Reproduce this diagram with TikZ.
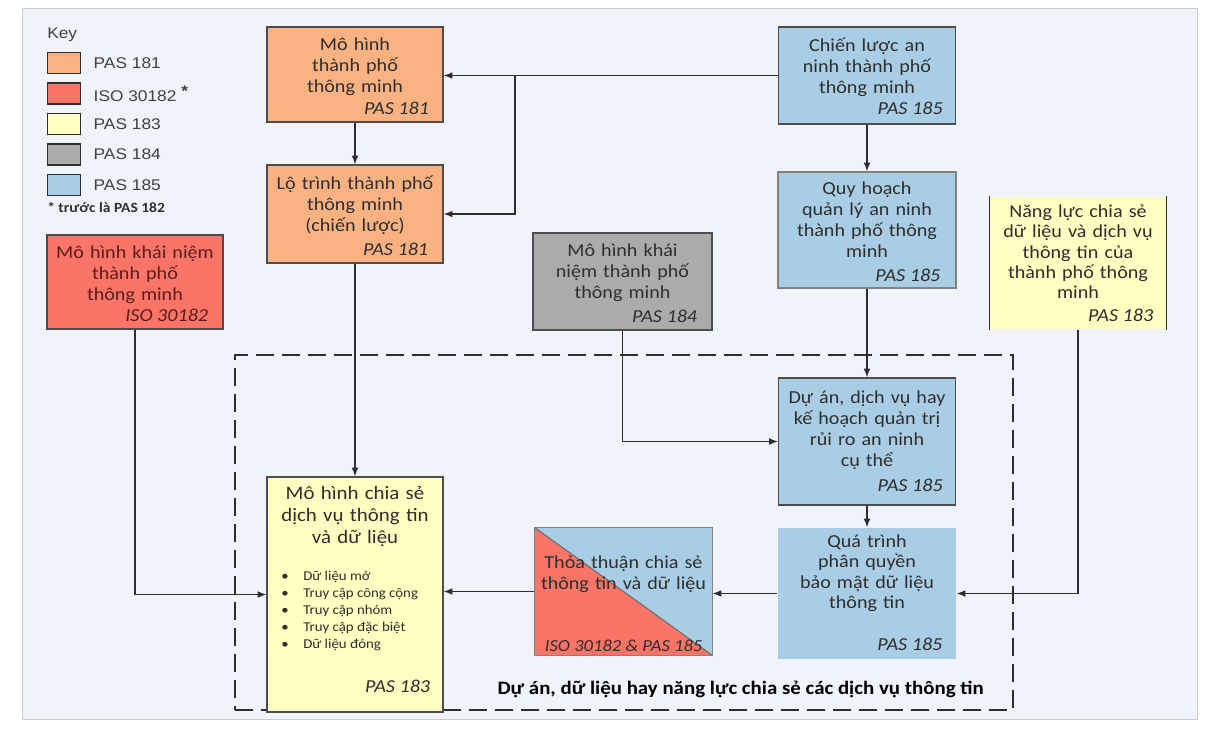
\documentclass[tikz,border=0pt]{standalone}
\usepackage{fontspec}
\setmainfont{Carlito}[FakeStretch=1.1]
\newfontfamily\keyfont{Liberation Sans}[FakeStretch=1.12]
\usetikzlibrary{arrows.meta,positioning}

\definecolor{pasorange}{HTML}{FAB283}
\definecolor{isored}{HTML}{FA7468}
\definecolor{pasyellow}{HTML}{FFFFC2}
\definecolor{pasgrey}{HTML}{ABABAB}
\definecolor{pasblue}{HTML}{A9CDE5}
\definecolor{paper}{HTML}{F0F3FA}
\definecolor{ink}{HTML}{2E2E2E}
\definecolor{isoink}{HTML}{5A1E18}

\begin{document}
\begin{tikzpicture}[x=0.025cm, y=-0.025cm,
  box/.style={draw=ink!85, line width=0.9pt, minimum width=4.4cm, inner sep=0pt},
  boxtext/.style={anchor=north, align=center, text width=4.2cm, inner sep=0pt, text=ink,
    font=\fontsize{13}{15}\selectfont},
  pas/.style={anchor=east, inner sep=0pt, text=ink, font=\fontsize{13}{15}\selectfont\itshape},
  arr/.style={draw=ink, line width=0.8pt, -{Latex[length=2.2mm,width=1.7mm]}},
  swatch/.style={draw=ink, line width=1pt, minimum width=0.825cm, minimum height=0.525cm, inner sep=0pt},
  keylabel/.style={anchor=west, inner sep=0pt, text=black!75, font=\keyfont\fontsize{11}{13}\selectfont},
]
\useasboundingbox (0,0) rectangle (1208,731);
\draw[fill=paper, draw=black!20] (22,8) rectangle (1197,719);

% key
\node[keylabel] (keyhead) at (47,35) {Key};
\node[swatch, fill=pasorange, anchor=north west] (k181) at (47,52) {};
\node[swatch, fill=isored, below=0.2cm of k181] (k30182) {};
\node[swatch, fill=pasyellow, below=0.2cm of k30182] (k183) {};
\node[swatch, fill=pasgrey, below=0.2cm of k183] (k184) {};
\node[swatch, fill=pasblue, below=0.2cm of k184] (k185) {};
\node[keylabel, right=0.3cm of k181] (l181) {PAS 181};
\node[keylabel, right=0.3cm of k30182] (l30182) {ISO 30182~\raisebox{0.6ex}{\bfseries *}};
\node[keylabel, right=0.3cm of k183] (l183) {PAS 183};
\node[keylabel, right=0.3cm of k184] (l184) {PAS 184};
\node[keylabel, right=0.3cm of k185] (l185) {PAS 185};
\node[anchor=west, inner sep=0pt, text=ink, font=\fontsize{10}{12}\selectfont\bfseries] (keynote) at (47,208) {* trước là PAS 182};

% dashed scope
\node[draw=ink, line width=1.3pt, dash pattern=on 0.45cm off 0.2cm, minimum width=19.45cm, minimum height=8.875cm, inner sep=0pt] (project) at (624,532.5) {};
\node[anchor=east, inner sep=0pt, text=black, font=\fontsize{13.5}{15}\selectfont\bfseries] (projecttitle)
  at ([xshift=-0.75cm,yshift=0.55cm]project.south east) {Dự án, dữ liệu hay năng lực chia sẻ các dịch vụ thông tin};

% PAS 181
\node[box, fill=pasorange, minimum height=2.375cm] (m181) at (355,74.5) {};
\node[boxtext] (m181t) at ([yshift=-0.27cm]m181.north) {Mô hình\\thành phố\\thông minh};
\node[pas] (m181p) at ([xshift=-0.36cm,yshift=0.35cm]m181.south east) {PAS 181};

\node[box, fill=pasorange, minimum height=2.45cm] (lotrinh) at (355,214) {};
\node[boxtext] (lotrinht) at ([yshift=-0.27cm]lotrinh.north) {Lộ trình thành phố\\thông minh\\(chiến lược)};
\node[pas] (lotrinhp) at ([xshift=-0.38cm,yshift=0.37cm]lotrinh.south east) {PAS 181};

% ISO 30182
\node[box, fill=isored, minimum height=2.35cm] (iso) at (135,282) {};
\node[boxtext, text=isoink] (isot) at ([yshift=-0.27cm]iso.north) {Mô hình khái niệm\\thành phố\\thông minh};
\node[pas, text=isoink] (isop) at ([xshift=-0.38cm,yshift=0.35cm]iso.south east) {ISO 30182};

% PAS 184
\node[box, fill=pasgrey, minimum width=4.475cm, minimum height=2.425cm] (pas184) at (622.5,281.5) {};
\node[boxtext] (pas184t) at ([yshift=-0.27cm]pas184.north) {Mô hình khái\\niệm thành phố\\thông minh};
\node[pas] (pas184p) at ([xshift=-0.38cm,yshift=0.37cm]pas184.south east) {PAS 184};

% PAS 185
\node[box, fill=pasblue, minimum width=4.425cm, minimum height=2.425cm] (chienluoc) at (867,75.5) {};
\node[boxtext] (chienluoct) at ([yshift=-0.27cm]chienluoc.north) {Chiến lược an\\ninh thành phố\\thông minh};
\node[pas] (chienluocp) at ([xshift=-0.33cm,yshift=0.4cm]chienluoc.south east) {PAS 185};

\node[box, draw=ink!60, fill=pasblue, minimum width=4.45cm, minimum height=2.9cm] (quyhoach) at (867,230) {};
\node[boxtext] (quyhoacht) at ([yshift=-0.25cm]quyhoach.north) {Quy hoạch\\quản lý an ninh\\thành phố thông\\minh};
\node[pas] (quyhoachp) at ([xshift=-0.4cm,yshift=0.33cm]quyhoach.south east) {PAS 185};

\node[box, fill=pasblue, minimum width=4.425cm, minimum height=3.175cm] (duan) at (867,441.5) {};
\node[boxtext] (duant) at ([yshift=-0.32cm]duan.north) {Dự án, dịch vụ hay\\kế hoạch quản trị\\rủi ro an ninh\\cụ thể};
\node[pas] (duanp) at ([xshift=-0.33cm,yshift=0.5cm]duan.south east) {PAS 185};

\node[box, draw=none, fill=pasblue, minimum width=4.45cm, minimum height=3.275cm] (quatrinh) at (867,593.5) {};
\node[boxtext, font=\fontsize{13}{14.5}\selectfont] (quatrinht) at ([yshift=-0.18cm]quatrinh.north) {Quá trình\\phân quyền\\bảo mật dữ liệu\\thông tin};
\node[pas] (quatrinhp) at ([xshift=-0.35cm,yshift=0.38cm]quatrinh.south east) {PAS 185};

% PAS 183
\node[box, draw=none, fill=pasyellow, minimum height=3.3cm] (nangluc) at (1078,263) {};
\draw[ink, line width=1pt] (nangluc.north west) -- (nangluc.south west)
  (nangluc.north east) -- (nangluc.south east);
\node[boxtext, font=\fontsize{13}{14.5}\selectfont] (nanglt) at ([yshift=-0.2cm]nangluc.north) {Năng lực chia sẻ\\dữ liệu và dịch vụ\\thông tin của\\thành phố thông\\minh};
\node[pas] (nanglucp) at ([xshift=-0.33cm,yshift=0.37cm]nangluc.south east) {PAS 183};

\node[box, fill=pasyellow, minimum height=5.875cm] (chiase) at (355,594.5) {};
\node[boxtext, font=\fontsize{13.5}{15.5}\selectfont] (chiaset) at ([yshift=-0.24cm]chiase.north) {Mô hình chia sẻ\\dịch vụ thông tin\\và dữ liệu};
\node[anchor=north west, inner sep=0pt, align=left, text=ink, font=\fontsize{9.6}{12.1}\selectfont] (chiasel) at (281,571)
  {\makebox[0.55cm][l]{•}Dữ liệu mở\\\makebox[0.55cm][l]{•}Truy cập công cộng\\\makebox[0.55cm][l]{•}Truy cập nhóm\\\makebox[0.55cm][l]{•}Truy cập đặc biệt\\\makebox[0.55cm][l]{•}Dữ liệu đóng};
\node[pas] (chiasep) at ([xshift=-0.33cm,yshift=0.65cm]chiase.south east) {PAS 183};

% ISO 30182 & PAS 185
\node[box, draw=none, fill=pasblue, minimum width=4.425cm, minimum height=3.175cm] (thoa) at (623.5,591.5) {};
\fill[isored] (thoa.north west) -- (thoa.south east) -- (thoa.south west) -- cycle;
\draw[ink!70, line width=0.8pt] (thoa.north west) -- (thoa.south east);
\draw[ink!60, line width=0.8pt] (thoa.north west) rectangle (thoa.south east);
\node[boxtext] (thoat) at ([yshift=-0.7cm]thoa.north) {Thỏa thuận chia sẻ\\thông tin và dữ liệu};
\node[pas, font=\fontsize{12}{14}\selectfont\itshape] (thoap) at ([xshift=-0.25cm,yshift=0.25cm]thoa.south east) {ISO 30182 \& PAS 185};

% connectors
\coordinate (splitx) at (515,0);
\coordinate (split) at (chienluoc.west -| splitx);
\draw[arr] (chienluoc.west) -- (chienluoc.west -| m181.east);
\draw[arr] (split) |- (lotrinh.east);
\draw[arr] (m181.south) -- (lotrinh.north);
\draw[arr] (lotrinh.south) -- (chiase.north);
\draw[arr] (chienluoc.south) -- (quyhoach.north);
\draw[arr] (quyhoach.south) -- (duan.north);
\draw[arr] (duan.south) -- (quatrinh.north);
\draw[arr] (pas184.south) |- (duan.west);
\draw[arr] (nangluc.south) |- (quatrinh.east);
\draw[arr] (quatrinh.west) -- (quatrinh.west -| thoa.east);
\draw[arr] (thoa.west) -- (thoa.west -| chiase.east);
\draw[arr] (iso.south) |- (chiase.west);
\end{tikzpicture}
\end{document}
